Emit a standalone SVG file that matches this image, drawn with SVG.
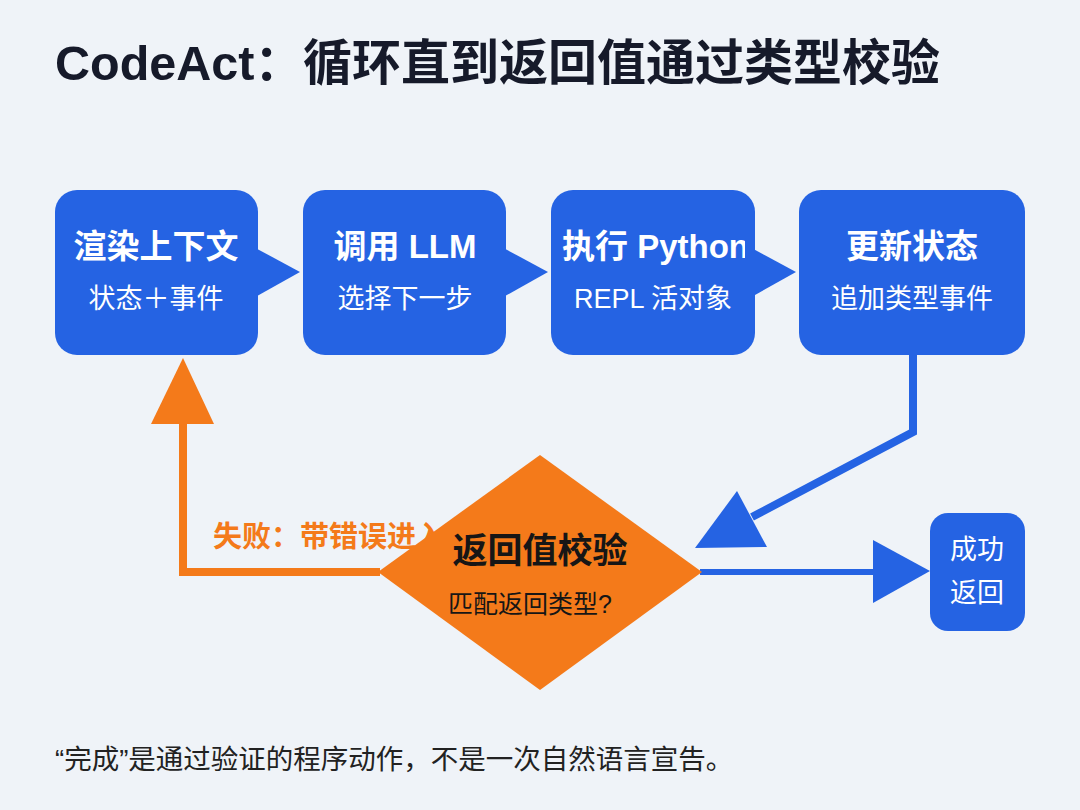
<svg xmlns="http://www.w3.org/2000/svg" width="1080" height="810" viewBox="0 0 1080 810">
<defs>
<style>
.bg{fill:#eff3f8}
.box{fill:#2563e3}
.t{font-family:"Liberation Sans","Noto Sans CJK SC",sans-serif;text-anchor:middle}
.nt{fill:#ffffff;font-size:33px;font-weight:bold}
.ns{fill:#ffffff;font-size:27px}
.blue{fill:#2563e3}
.orange{fill:#f47a1a}
</style>
<clipPath id="c3"><rect x="551" y="190" width="194" height="165"/></clipPath>
</defs>
<rect class="bg" x="0" y="0" width="1080" height="810"/>
<text x="55" y="80" font-family="Liberation Sans,Noto Sans CJK SC,sans-serif" font-size="48.5" font-weight="bold" fill="#161a2a">CodeAct：<tspan font-size="49">循环直到返回值通过类型校验</tspan></text>

<g id="connectors">
  <polygon class="blue" points="250,245 300,272 250,300"/>
  <polygon class="blue" points="498,245 548,272 498,300"/>
  <polygon class="blue" points="746,245 796,272 746,300"/>
  <polyline points="913,355 913,432 752,517" fill="none" stroke="#2563e3" stroke-width="8"/>
  <polygon class="blue" points="695,548 737,491 767,547"/>
  <line x1="700" y1="572" x2="876" y2="572" stroke="#2563e3" stroke-width="6"/>
  <polygon class="blue" points="873,540 930,571 873,603"/>
  <polyline points="380,572 183,572 183,420" fill="none" stroke="#f47a1a" stroke-width="8"/>
  <polygon class="orange" points="183,358 214,424 151,424"/>
  <text x="213" y="547" font-family="Liberation Sans,Noto Sans CJK SC,sans-serif" font-size="29" font-weight="bold" fill="#f47a1a">失败：带错误进入</text>
</g>

<g id="n1">
  <rect class="box" x="55" y="190" width="203" height="165" rx="22"/>
  <text class="t nt" x="156" y="258">渲染上下文</text>
  <text class="t ns" x="156" y="308">状态＋事件</text>
</g>
<g id="n2">
  <rect class="box" x="303" y="190" width="203" height="165" rx="22"/>
  <text class="t nt" x="405" y="258">调用 LLM</text>
  <text class="t ns" x="405" y="308">选择下一步</text>
</g>
<g id="n3">
  <rect class="box" x="551" y="190" width="204" height="165" rx="22"/>
  <text x="562" y="258" clip-path="url(#c3)" font-family="Liberation Sans,Noto Sans CJK SC,sans-serif" font-size="33" font-weight="bold" fill="#ffffff">执行 Python</text>
  <text class="t ns" x="653" y="308">REPL 活对象</text>
</g>
<g id="n4">
  <rect class="box" x="799" y="190" width="226" height="165" rx="22"/>
  <text class="t nt" x="912" y="258">更新状态</text>
  <text class="t ns" x="912" y="308">追加类型事件</text>
</g>
<g id="n5">
  <polygon class="orange" points="540,455 702,572 540,690 378,572"/>
  <text class="t" x="540" y="563" font-size="35" font-weight="bold" fill="#161616">返回值校验</text>
  <text class="t" x="530" y="613" font-size="25" fill="#161616">匹配返回类型?</text>
</g>
<g id="n6">
  <rect class="box" x="930" y="513" width="95" height="118" rx="18"/>
  <text class="t ns" x="977" y="559">成功</text>
  <text class="t ns" x="977" y="602">返回</text>
</g>
<text x="55" y="769" font-family="Liberation Sans,Noto Sans CJK SC,sans-serif" font-size="27.5" fill="#222222">“完成”是通过验证的程序动作，不是一次自然语言宣告。</text>
</svg>
